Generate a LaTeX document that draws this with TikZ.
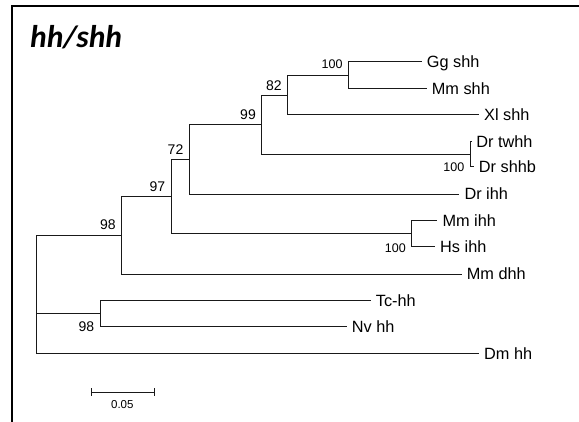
\documentclass[tikz,border=0pt]{standalone}
\usepackage{fontspec}
\setmainfont{Liberation Sans}
\newfontfamily\titlefont{Carlito}
\begin{document}
\begin{tikzpicture}[x=1pt,y=-1pt,
  branch/.style={draw=black!90,line width=0.95pt},
  frame/.style={draw=black,line width=2pt},
  taxon/.style={font=\fontsize{16.3}{16.3}\selectfont,inner sep=0pt,anchor=base west,xshift=5pt,yshift=-5.8pt},
  boot/.style={font=\fontsize{14}{14}\selectfont,inner sep=0pt,anchor=base east},
  bootsm/.style={font=\fontsize{12.5}{12.5}\selectfont,inner sep=0pt,anchor=base east},
]
\useasboundingbox (0,0) rectangle (579,421);
% open frame (top and left edges)
\draw[frame] (11.7,430) -- (11.7,6) -- (590,6);
\node[anchor=base west,inner sep=0pt,font=\titlefont\bfseries\itshape\fontsize{31.5}{31.5}\selectfont] (title) at (30,47) {hh/shh};

% internal nodes
\coordinate (root)  at (36,294.3);
\coordinate (n98a)  at (121.3,235.3);
\coordinate (n97)   at (171.3,196.8);
\coordinate (n72)   at (189,159.5);
\coordinate (n99)   at (261,124.7);
\coordinate (n82)   at (287.3,95);
\coordinate (n100a) at (348.3,75);
\coordinate (n100c) at (470.7,154.2);
\coordinate (n100b) at (411.7,233.7);
\coordinate (n98b)  at (100,313.5);

% leaf tips
\coordinate (gg)   at (421.7,61.7);
\coordinate (mms)  at (426.7,88.3);
\coordinate (xl)   at (479,114.7);
\coordinate (drtw) at (471.2,141.7);
\coordinate (drsb) at (473.7,166.7);
\coordinate (dri)  at (459.3,194);
\coordinate (mmi)  at (437.3,220.7);
\coordinate (hsi)  at (435,246.7);
\coordinate (mmd)  at (461.7,274);
\coordinate (tc)   at (370.7,300.3);
\coordinate (nv)   at (346.7,326.7);
\coordinate (dm)   at (479,353.3);

% branches
\draw[branch] (root) |- (n98a);
\draw[branch] (root) |- (n98b);
\draw[branch] (root) |- (dm);
\draw[branch] (n98a) |- (n97);
\draw[branch] (n98a) |- (mmd);
\draw[branch] (n97) |- (n72);
\draw[branch] (n97) |- (n100b);
\draw[branch] (n72) |- (n99);
\draw[branch] (n72) |- (dri);
\draw[branch] (n99) |- (n82);
\draw[branch] (n99) |- (n100c);
\draw[branch] (n82) |- (n100a);
\draw[branch] (n82) |- (xl);
\draw[branch] (n100a) |- (gg);
\draw[branch] (n100a) |- (mms);
\draw[branch] (n100c) |- (drtw);
\draw[branch] (n100c) |- (drsb);
\draw[branch] (n100b) |- (mmi);
\draw[branch] (n100b) |- (hsi);
\draw[branch] (n98b) |- (tc);
\draw[branch] (n98b) |- (nv);

% taxon labels
\node[taxon] (lgg)   at (gg)   {Gg shh};
\node[taxon] (lmms)  at (mms)  {Mm shh};
\node[taxon] (lxl)   at (xl)   {Xl shh};
\node[taxon] (ldrtw) at (drtw) {Dr twhh};
\node[taxon] (ldrsb) at (drsb) {Dr shhb};
\node[taxon] (ldri)  at (dri)  {Dr ihh};
\node[taxon] (lmmi)  at (mmi)  {Mm ihh};
\node[taxon] (lhsi)  at (hsi)  {Hs ihh};
\node[taxon] (lmmd)  at (mmd)  {Mm dhh};
\node[taxon] (ltc)   at (tc)   {Tc-hh};
\node[taxon] (lnv)   at (nv)   {Nv hh};
\node[taxon] (ldm)   at (dm)   {Dm hh};

% bootstrap values
\node[boot]   (b82)   at ([shift={(-5.5,-5)}]n82)   {82};
\node[boot]   (b99)   at ([shift={(-5,-5.4)}]n99)   {99};
\node[boot]   (b72)   at ([shift={(-5.5,-5.2)}]n72) {72};
\node[boot]   (b97)   at ([shift={(-6,-5.8)}]n97)   {97};
\node[boot]   (b98a)  at ([shift={(-5.5,-6.3)}]n98a) {98};
\node[bootsm] (b100a) at ([shift={(-5.5,-6.7)}]n100a) {100};
\node[bootsm] (b100c) at ([shift={(-6.2,5)}]470.7,166.7) {100};
\node[bootsm] (b100b) at ([shift={(-5.7,5.6)}]411.7,246.7) {100};
\node[boot]   (b98b)  at ([shift={(-5.7,5)}]100,326.7) {98};

% scale bar
\coordinate (sbl) at (91.3,392.3);
\coordinate (sbr) at (154.3,392.3);
\draw[branch] (sbl) -- (sbr);
\draw[branch] ([yshift=4pt]sbl) -- ([yshift=-4pt]sbl);
\draw[branch] ([yshift=4pt]sbr) -- ([yshift=-4pt]sbr);
\node[font=\fontsize{11.5}{11.5}\selectfont,inner sep=0pt] (sblab) at (122.3,404.3) {0.05};
\end{tikzpicture}
\end{document}
